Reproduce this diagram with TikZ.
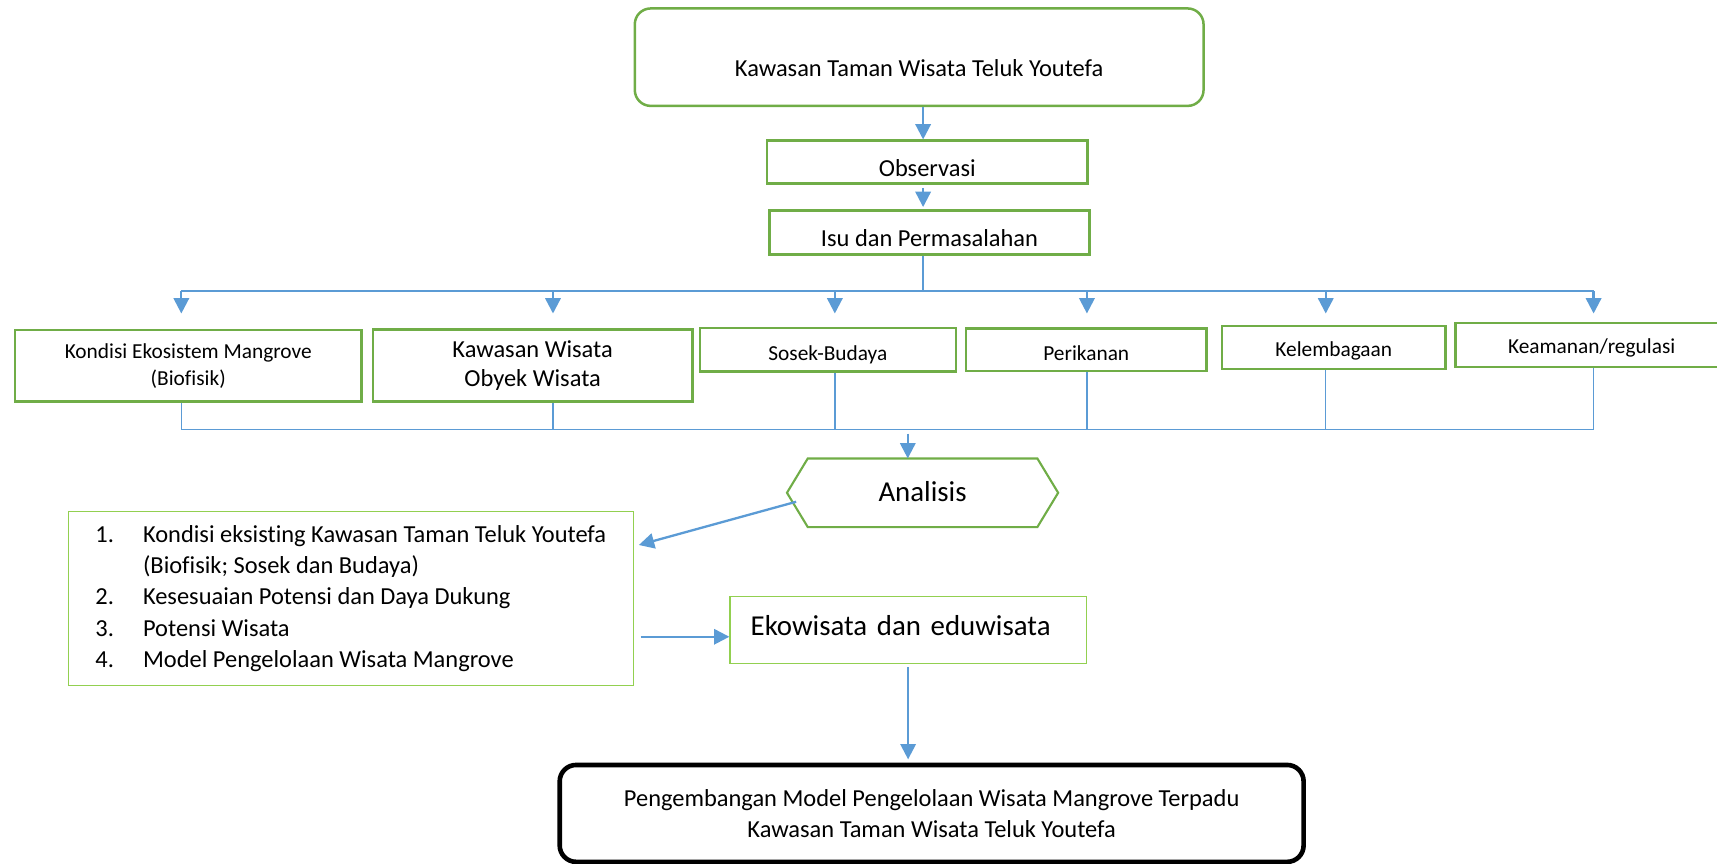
\documentclass[tikz,border=0pt]{standalone}
\usepackage{fontspec}
\setmainfont{Carlito}[Ligatures=NoCommon]
\usetikzlibrary{arrows.meta}
\definecolor{grn}{HTML}{70AD47}
\definecolor{lgrn}{HTML}{92D050}
\definecolor{blu}{HTML}{5B9BD5}

\begin{document}
\begin{tikzpicture}[
    x=0.02cm, y=-0.02cm,
    box/.style={draw=grn, line width=1.3pt, inner sep=0pt, font=\fontsize{12.7}{16.3}\selectfont},
    lbox/.style={draw=lgrn, line width=0.6pt, inner sep=0pt, font=\fontsize{12.7}{16.3}\selectfont},
    small/.style={font=\fontsize{11.1}{13.8}\selectfont},
    big/.style={font=\fontsize{15}{18}\selectfont},
    sink/.style={text height=#1, text depth=0pt},
    arr/.style={draw=blu, line width=1.2pt, -{Triangle[length=0.28cm,width=0.28cm]}},
    conn/.style={draw=blu, line width=0.7pt}
]
\useasboundingbox (0,0) rectangle (1568,789);

% top of the chart
\node[box, rounded corners=0.29cm, minimum width=10.39cm, minimum height=1.78cm, sink=0.7cm] (top) at (839.4,52.2) {Kawasan Taman Wisata Teluk Youtefa};
\node[box, minimum width=5.85cm, minimum height=0.78cm, sink=0.54cm] (obs) at (846.8,148) {Observasi};
\node[box, minimum width=5.85cm, minimum height=0.8cm, sink=0.52cm] (isu) at (848.8,212.2) {Isu dan Permasalahan};
\coordinate (spine) at (843,0);
\coordinate (bus) at (843,265.8);
\coordinate (bus2) at (829,392);

\draw[arr] (top.south -| spine) -- (obs.north -| spine);
\draw[arr] ([yshift=-0.06cm]obs.south -| spine) -- ([yshift=0.04cm]isu.north -| spine);
\draw[conn] (isu.south -| spine) -- (bus);

% aspects
\node[box, small, align=center, minimum width=6.33cm, minimum height=1.31cm] (k1) at (171.9,334.1) {Kondisi Ekosistem Mangrove\\(Biofisik)};
\node[box, align=center, font=\fontsize{12.7}{14.7}\selectfont, minimum width=5.84cm, minimum height=1.32cm] (k2) at (486.4,333.8) {Kawasan Wisata\\Obyek Wisata};
\node[box, small, minimum width=4.68cm, minimum height=0.8cm, sink=0.38cm] (k3) at (756,319.3) {Sosek-Budaya};
\node[box, small, minimum width=4.4cm, minimum height=0.78cm, sink=0.38cm] (k4) at (992,319.3) {Perikanan};
\node[box, small, minimum width=4.08cm, minimum height=0.79cm, sink=0.34cm] (k5) at (1218,317.4) {Kelembagaan};
\node[box, small, minimum width=4.98cm, minimum height=0.81cm, sink=0.33cm] (k6) at (1453.5,315) {Keamanan/regulasi};

\foreach \n/\d in {1/-6.3,2/18.6,3/6.4,4/0.6,5/-7.3,6/1.8} {
    \coordinate (p\n) at ([xshift=\d*0.02cm]k\n.north);
    \draw[arr] (p\n |- bus) -- ([yshift=-0.41cm]p\n |- bus);
    \draw[conn] (p\n |- k\n.south) -- (p\n |- bus2);
}
\draw[conn] (p1 |- bus) -- (p6 |- bus);
\draw[conn] (p1 |- bus2) -- (p6 |- bus2);

% analysis
\node[big, minimum width=4.94cm, minimum height=1.24cm, inner sep=0pt, sink=0.32cm] (ana) at (842.5,450) {Analisis};
\draw[grn, line width=1.1pt] (ana.west) -- ([xshift=0.38cm]ana.north west) -- ([xshift=-0.38cm]ana.north east)
    -- (ana.east) -- ([xshift=-0.38cm]ana.south east) -- ([xshift=0.38cm]ana.south west) -- cycle;
\draw[arr] ([yshift=-0.08cm]bus2) -- (bus2 |- ana.north);

\node[lbox, align=left, minimum width=10.33cm, minimum height=3.18cm] (lst) at (320.4,546.5) {%
    \makebox[0.87cm][l]{1.}Kondisi eksisting Kawasan Taman Teluk Youtefa\\
    \hspace*{0.87cm}(Biofisik; Sosek dan Budaya)\\
    \makebox[0.87cm][l]{2.}Kesesuaian Potensi dan Daya Dukung\\
    \makebox[0.87cm][l]{3.}Potensi Wisata\\
    \makebox[0.87cm][l]{4.}Model Pengelolaan Wisata Mangrove};
\node[lbox, big, align=left, text width=5.75cm, inner xsep=0.38cm, minimum height=1.22cm, sink=0.18cm] (eko) at (829.3,575.5) {Ekowisata dan eduwisata};

\draw[arr] ([shift={(8.4,8.2)}]ana.west) -- ([shift={(4.3,-48.8)}]lst.east);
\draw[arr] ([shift={(5.8,35)}]lst.east) -- ([shift={(0,6)}]eko.west);

% result
\node[draw=black, line width=2.4pt, rounded corners=0.3cm, align=center, font=\fontsize{12.7}{15.9}\selectfont,
    minimum width=13.59cm, minimum height=1.77cm] (bot) at (850.8,742.8)
    {Pengembangan Model Pengelolaan Wisata Mangrove Terpadu\\Kawasan Taman Wisata Teluk Youtefa};
\draw[arr] ([yshift=-0.06cm]eko.south) -- ([yshift=0.06cm]eko.south |- bot.north);
\end{tikzpicture}
\end{document}
